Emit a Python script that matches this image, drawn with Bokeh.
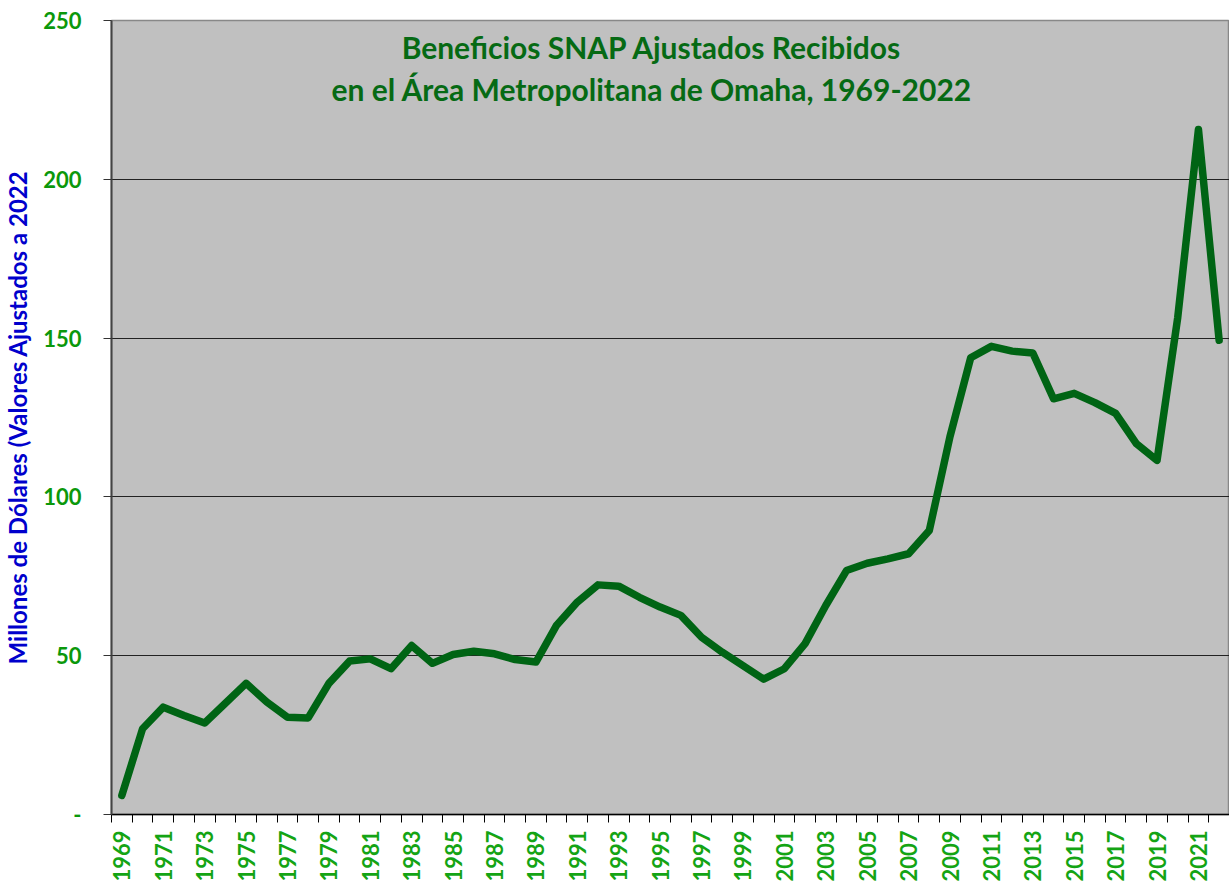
from bokeh.plotting import figure
from bokeh.models import Range1d, FixedTicker, Label
from bokeh.embed import file_html
from bokeh.resources import INLINE
from math import pi

years = list(range(1969, 2023))
benefits = [6.0, 27.0, 33.8, 31.2, 28.8, 35.0, 41.3, 35.4, 30.6, 30.4,
            41.3, 48.3, 49.0, 45.9, 53.2, 47.6, 50.4, 51.4, 50.6, 48.8,
            48.0, 59.6, 66.9, 72.3, 71.9, 68.4, 65.3, 62.7, 55.8, 51.1,
            46.9, 42.6, 45.9, 53.8, 65.8, 76.8, 79.1, 80.5, 82.1, 89.4,
            119.0, 143.8, 147.4, 145.9, 145.3, 130.9, 132.6, 129.7, 126.3, 116.8,
            111.5, 156.5, 215.7, 149.3]
y_ticks = [0, 50, 100, 150, 200, 250]
x_label_years = [y for y in years if y % 2 == 1]
title_lines = ["Beneficios SNAP Ajustados Recibidos",
               "en el Área Metropolitana de Omaha, 1969-2022"]
y_title = "Millones de Dólares (Valores Ajustados a 2022"

FONT = "Lato"

p = figure(width=1229, height=884, output_backend="svg", toolbar_location=None,
           x_range=Range1d(years[0] - 0.5, years[-1] + 0.5),
           y_range=Range1d(0, 250),
           min_border_left=111, min_border_top=20, min_border_right=0,
           min_border_bottom=70)
p.background_fill_color = "#c0c0c0"
p.border_fill_color = "white"
p.outline_line_color = "#888888"
p.outline_line_width = 1.5

p.line(years, benefits, line_color="#006414", line_width=7.5,
       line_join="round", line_cap="round")

# x axis
p.xaxis.ticker = FixedTicker(ticks=x_label_years,
                             minor_ticks=[years[0] - 0.5 + k for k in range(len(years) + 1)])
p.xaxis.major_tick_out = 0
p.xaxis.major_tick_in = 0
p.xaxis.minor_tick_out = 8
p.xaxis.minor_tick_in = 0
p.xaxis.minor_tick_line_color = "black"
p.xaxis.minor_tick_line_width = 1
p.xaxis.axis_line_color = "black"
p.xaxis.axis_line_width = 1.5
p.xaxis.major_label_orientation = pi / 2
p.xaxis.major_label_standoff = 8
p.xaxis.major_label_text_font = FONT
p.xaxis.major_label_text_font_style = "bold"
p.xaxis.major_label_text_font_size = "22px"
p.xaxis.major_label_text_color = "#14a414"

# y axis
p.yaxis.ticker = FixedTicker(ticks=y_ticks, minor_ticks=[])
p.yaxis.major_label_overrides = {0: "-"}
p.yaxis.major_tick_out = 8
p.yaxis.major_tick_in = 0
p.yaxis.major_tick_line_color = "#333333"
p.yaxis.axis_line_color = "#444444"
p.yaxis.axis_line_width = 2
p.yaxis.major_label_standoff = 22
p.yaxis.major_label_text_font = FONT
p.yaxis.major_label_text_font_style = "bold"
p.yaxis.major_label_text_font_size = "22px"
p.yaxis.major_label_text_color = "#0b980b"
p.yaxis.axis_label = y_title
p.yaxis.axis_label_text_font = FONT
p.yaxis.axis_label_text_font_style = "bold"
p.yaxis.axis_label_text_font_size = "24px"
p.yaxis.axis_label_text_color = "#0000cc"
p.yaxis.axis_label_standoff = 8

p.xgrid.visible = False
p.ygrid.ticker = FixedTicker(ticks=y_ticks)
p.ygrid.grid_line_color = "#222222"
p.ygrid.grid_line_width = 1

for line_text, yv in zip(title_lines, [241.6, 228.4]):
    p.add_layout(Label(x=1994.6, y=yv, text=line_text, text_align="center",
                       text_baseline="middle", text_font=FONT,
                       text_font_style="bold", text_font_size="30px",
                       text_color="#066a14"))

open("out.html", "w").write(file_html(p, INLINE))
